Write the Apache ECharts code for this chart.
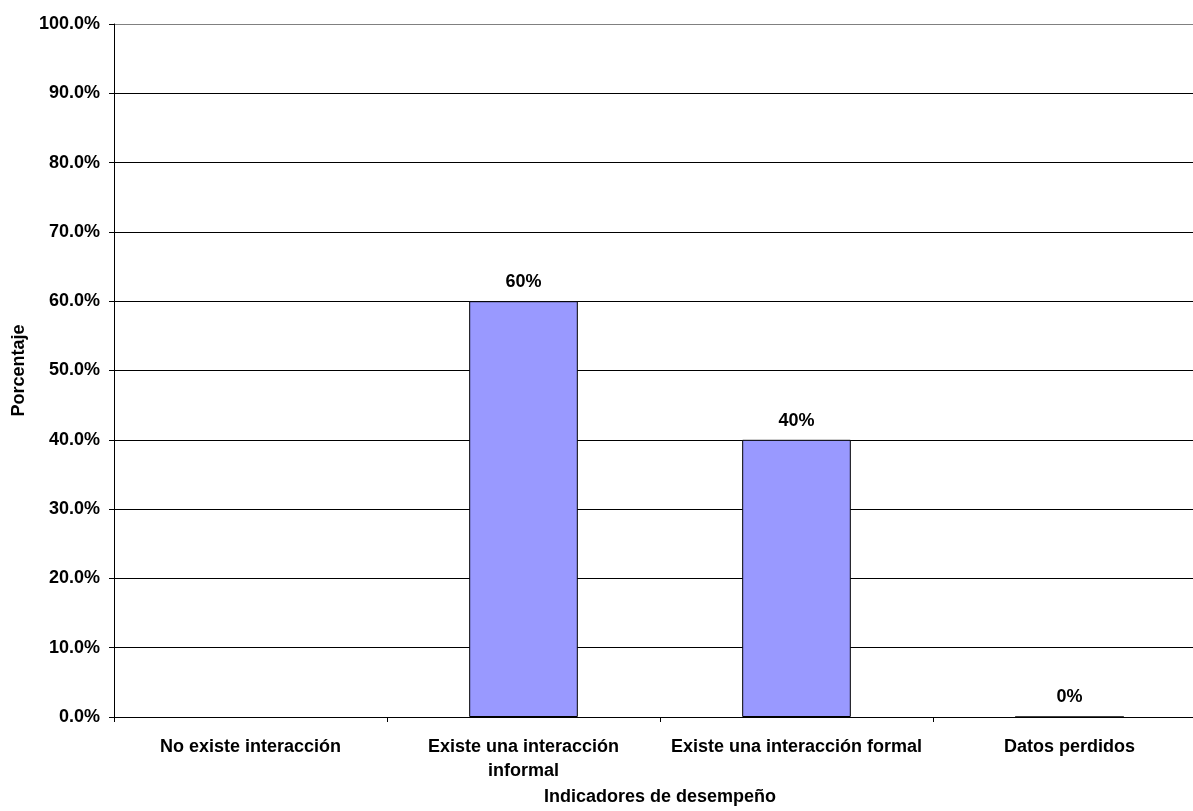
<!DOCTYPE html>
<html><head><meta charset="utf-8">
<script src="https://cdn.jsdelivr.net/npm/echarts@6/dist/echarts.min.js"></script>
<style>html,body{margin:0;padding:0;background:#fff;overflow:hidden;width:1193px;height:811px}#c{width:1220px;height:811px}</style>
</head><body><div id="c"></div>
<script>
const categories = ["No existe interacción", "Existe una interacción\ninformal", "Existe una interacción formal", "Datos perdidos"];
const values = [null, 60, 40, 0];
const yTicks = [0, 10, 20, 30, 40, 50, 60, 70, 80, 90, 100];

const chart = echarts.init(document.getElementById('c'), null, {renderer: 'canvas'});
const font = '"Liberation Sans", Arial, sans-serif';
const gridColors = yTicks.map((t, i) => i === yTicks.length - 1 ? '#808080' : '#000000');
chart.setOption({
  animation: false,
  grid: {left: 114, top: 24, width: 1092, height: 693, containLabel: false},
  xAxis: {
    type: 'category',
    data: categories,
    name: 'Indicadores de desempeño',
    nameLocation: 'middle',
    nameGap: 70,
    nameTextStyle: {fontFamily: font, fontWeight: 'bold', fontSize: 18, color: '#000'},
    axisLine: {lineStyle: {color: '#000', width: 1}},
    axisTick: {show: true, length: 5, lineStyle: {color: '#000'}},
    axisLabel: {fontFamily: font, fontWeight: 'bold', fontSize: 18, color: '#000', margin: 18, lineHeight: 24, interval: 0}
  },
  yAxis: {
    type: 'value',
    min: 0, max: 100, interval: 10,
    name: 'Porcentaje',
    nameLocation: 'middle',
    nameGap: 85,
    nameRotate: 90,
    nameTextStyle: {fontFamily: font, fontWeight: 'bold', fontSize: 18, color: '#000'},
    axisLine: {show: true, lineStyle: {color: '#000', width: 1}},
    axisTick: {show: true, length: 5, lineStyle: {color: '#000'}},
    axisLabel: {fontFamily: font, fontWeight: 'bold', fontSize: 18, color: '#000', margin: 14,
      formatter: v => v.toFixed(1) + '%'},
    splitLine: {show: true, lineStyle: {color: gridColors, width: 1}}
  },
  series: [{
    type: 'bar',
    data: values,
    barWidth: '39.8%',
    itemStyle: {color: '#9999FF', borderColor: '#000', borderWidth: 1},
    label: {show: true, position: 'top', distance: 10, fontFamily: font, fontWeight: 'bold', fontSize: 18, color: '#000',
      formatter: p => p.value + '%'}
  }]
});
</script></body></html>
